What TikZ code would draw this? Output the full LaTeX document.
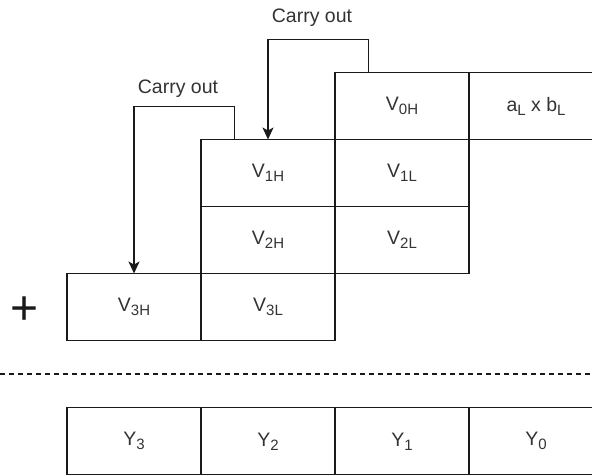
\documentclass[tikz,border=0pt]{standalone}
\usepackage{fontspec}
\setmainfont{Liberation Sans}
\usetikzlibrary{arrows.meta,calc}
\newcommand{\cellfont}{\fontsize{19.5}{22}\selectfont}
\newcommand{\mysb}[1]{\raisebox{-4pt}{\fontsize{15}{16}\selectfont #1}}
\definecolor{txt}{HTML}{333333}
\definecolor{ln}{HTML}{1A1A1A}
\begin{document}
\begin{tikzpicture}[x=1pt,y=-1pt,
  cell/.style={draw=ln, line width=1.3pt, minimum width=134pt, minimum height=67pt,
    inner sep=0pt, outer sep=0pt, anchor=north west, font=\cellfont, text=txt},
  lbl/.style={font=\cellfont, text=txt, inner sep=0pt},
  arr/.style={draw=ln, line width=1.3pt, -{Stealth[length=12pt,width=11pt,inset=3pt]}}]
\useasboundingbox (0,0) rectangle (592,475);
\clip (0,0) rectangle (592,475);
% grid
\node[cell] (v0h) at (335,72.5) {V\mysb{0H}};
\node[cell] (ab)  at (469,72.5) {a\mysb{L} x b\mysb{L}};
\node[cell] (v1h) at (201,139.5) {V\mysb{1H}};
\node[cell] (v1l) at (335,139.5) {V\mysb{1L}};
\node[cell] (v2h) at (201,206.5) {V\mysb{2H}};
\node[cell] (v2l) at (335,206.5) {V\mysb{2L}};
\node[cell] (v3h) at (67,273.5) {V\mysb{3H}};
\node[cell] (v3l) at (201,273.5) {V\mysb{3L}};
% result row
\node[cell] (y3) at (67,407.8) {Y\mysb{3}};
\node[cell] (y2) at (201,407.8) {Y\mysb{2}};
\node[cell] (y1) at (335,407.8) {Y\mysb{1}};
\node[cell] (y0) at (469,407.8) {Y\mysb{0}};
% plus sign
\node[inner sep=0pt, anchor=base, font=\fontsize{48}{50}\selectfont, text=ln] (plus) at (25,324) {+};
% dashed separator
\coordinate (dl) at (0,374);
\coordinate (dr) at (592,374);
\draw[draw=ln, line width=1.3pt, dash pattern=on 5pt off 4pt] (dl) -- (dr);
% carry arrows
\draw[arr] ($(v0h.north west)!0.25!(v0h.north east)$) -- ++(0,-33) -| (v1h.north);
\draw[arr] ($(v1h.north west)!0.25!(v1h.north east)$) -- ++(0,-33) -| (v3h.north);
\node[lbl] (c1) at (312,18) {Carry out};
\node[lbl] (c2) at (178,89) {Carry out};
\end{tikzpicture}
\end{document}
